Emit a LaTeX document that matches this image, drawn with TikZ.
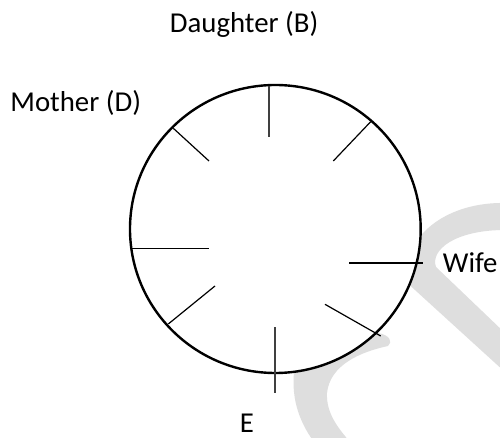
\documentclass[tikz,border=0pt]{standalone}
\usepackage{fontspec}
\setmainfont{Carlito}
\usetikzlibrary{shapes.geometric}
\begin{document}
\begin{tikzpicture}[x=0.5pt,y=-0.5pt,
  ring/.style={draw=black,line width=1.2pt,fill=white},
  tick/.style={draw=black,line width=0.6pt},
  axis/.style={draw=black!75,line width=0.8pt},
  mark label/.style={anchor=base west,inner sep=0pt,font=\fontsize{14.4}{17}\selectfont},
  watermark/.style={fill=black!13,draw=none}]
\clip (0,0) rectangle (500,438);
\fill[white] (0,0) rectangle (500,438);

% faint logo strokes in the background
\path[watermark] (505,203) .. controls (450,202) and (405,232) .. (404,280)
  -- (505,372) -- (505,333) -- (436,267)
  .. controls (430,250) and (455,230) .. (505,230) -- cycle;
\path[watermark] (388,346) .. controls (360,352) and (330,365) .. (327,393)
  .. controls (326,413) and (338,428) .. (350,442) -- (314,442)
  .. controls (298,420) and (290,395) .. (295,365)
  .. controls (305,340) and (340,330) .. (378,333)
  .. controls (390,335) and (393,342) .. (388,346) -- cycle;

% the table
\node[ring,ellipse,minimum width=145.35pt,minimum height=144pt,inner sep=0pt] (table) at (275.35,229) {};

% seats round the table
\draw[axis] (269,86) -- (269,137);
\draw[tick] (370.7,121.7) -- (333.3,161);
\draw[tick] (173.3,128.3) -- (209,161);
\draw[tick] (131.7,248.7) -- (208.7,248.7);
\draw[tick] (349.3,263) -- (422.7,263);
\draw[tick] (325,304.3) -- (380.7,336);
\draw[axis] (275,327.3) -- (275,392.7);
\draw[tick] (215,286) -- (168.3,324);

% names
\node[mark label] (daughter) at (169.5,33) {Daughter (B)};
\node[mark label] (mother) at (10,111.7) {Mother (D)};
\node[mark label] (wife) at (442.5,273) {Wife};
\node[mark label] (e) at (239.5,432.7) {E};
\end{tikzpicture}
\end{document}
